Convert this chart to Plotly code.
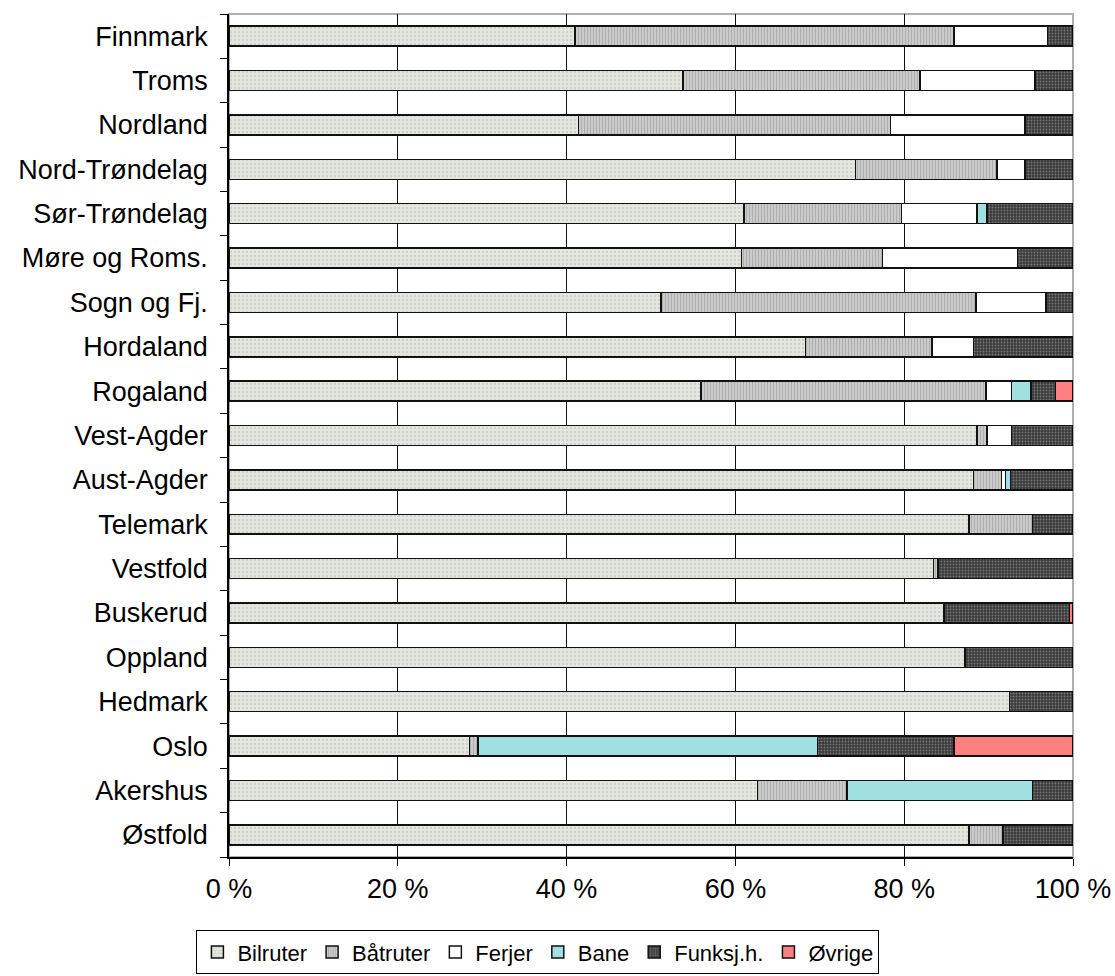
import plotly.graph_objects as go

# Counties, bottom to top
counties = ["Østfold", "Akershus", "Oslo", "Hedmark", "Oppland", "Buskerud",
            "Vestfold", "Telemark", "Aust-Agder", "Vest-Agder", "Rogaland",
            "Hordaland", "Sogn og Fj.", "Møre og Roms.", "Sør-Trøndelag",
            "Nord-Trøndelag", "Nordland", "Troms", "Finnmark"]

# Share of each service type, percent
bilruter = [87.7, 62.6, 28.5, 92.5, 87.2, 84.7, 83.5, 87.7, 88.2, 88.6, 55.9,
            68.3, 51.2, 60.7, 61.0, 74.2, 41.4, 53.8, 41.0]
batruter = [4.0, 10.6, 1.0, 0, 0, 0, 0.5, 7.5, 3.3, 1.2, 33.8,
            15.0, 37.3, 16.7, 18.7, 16.8, 37.0, 28.1, 44.9]
ferjer = [0, 0, 0, 0, 0, 0, 0, 0, 0.5, 2.9, 3.0,
          4.9, 8.3, 16.0, 8.9, 3.3, 15.9, 13.6, 11.1]
bane = [0, 22.0, 40.2, 0, 0, 0, 0, 0, 0.6, 0, 2.3,
        0, 0, 0, 1.2, 0, 0, 0, 0]
funksjh = [8.3, 4.8, 16.2, 7.5, 12.8, 14.9, 16.0, 4.8, 7.4, 7.3, 2.9,
           11.8, 3.2, 6.6, 10.2, 5.7, 5.7, 4.5, 3.0]
ovrige = [0, 0, 14.1, 0, 0, 0.4, 0, 0, 0, 0, 2.1,
          0, 0, 0, 0, 0, 0, 0, 0]

x_ticks = [0, 20, 40, 60, 80, 100]
x_ticktext = ["0 %", "20 %", "40 %", "60 %", "80 %", "100 %"]

series = [
    ("Bilruter", bilruter, dict(color="#e4e8e0",
                                pattern=dict(shape=".", fgcolor="#b8bcb4", bgcolor="#e4e8e0",
                                             size=4, solidity=0.35, fillmode="overlay"))),
    ("Båtruter", batruter, dict(color="#d4d4d4",
                                pattern=dict(shape="|", fgcolor="#888888", bgcolor="#d4d4d4",
                                             size=3, solidity=0.5, fillmode="overlay"))),
    ("Ferjer", ferjer, dict(color="#ffffff")),
    ("Bane", bane, dict(color="#a0e0e0")),
    ("Funksj.h.", funksjh, dict(color="#3a3a3a",
                                pattern=dict(shape=".", fgcolor="#b4b4b4", bgcolor="#3a3a3a",
                                             size=3, solidity=0.3, fillmode="overlay"))),
    ("Øvrige", ovrige, dict(color="#ff8080")),
]

fig = go.Figure()
for name, vals, mk in series:
    mk = dict(mk)
    mk["line"] = dict(color="#111111", width=1.5)
    fig.add_trace(go.Bar(y=counties, x=vals, name=name, orientation="h",
                         marker=mk, hoverinfo="x+y+name"))

fig.update_layout(
    barmode="stack",
    bargap=0.55,
    width=1115, height=976,
    margin=dict(l=229, r=42, t=14, b=119, autoexpand=False),
    paper_bgcolor="white",
    plot_bgcolor="white",
    font=dict(family="Liberation Sans, Arial, sans-serif", size=27, color="black"),
    showlegend=True,
    legend=dict(orientation="h", x=0.366, xanchor="center", y=-0.139, yanchor="bottom",
                bordercolor="black", borderwidth=1, bgcolor="white",
                font=dict(size=22), traceorder="normal", itemwidth=30,
                tracegroupgap=0),
    shapes=[dict(type="rect", xref="paper", yref="paper", x0=0, x1=1, y0=0, y1=1,
                 line=dict(color="#b0b0b0", width=2), layer="below")],
)

fig.update_xaxes(range=[0, 100], tickvals=x_ticks, ticktext=x_ticktext,
                 showgrid=True, gridcolor="#111111", gridwidth=1,
                 showline=True, linecolor="black", linewidth=1.5,
                 ticks="outside", ticklen=7, tickcolor="black", zeroline=False,
                 automargin=False, fixedrange=True)
fig.update_yaxes(type="category", categoryorder="array", categoryarray=counties,
                 showline=True, linecolor="black", linewidth=1.5,
                 ticks="outside", ticklen=7, tickcolor="black", tickson="boundaries",
                 ticklabelstandoff=14, automargin=False,
                 showgrid=False, fixedrange=True)

fig.write_html("out.html")
